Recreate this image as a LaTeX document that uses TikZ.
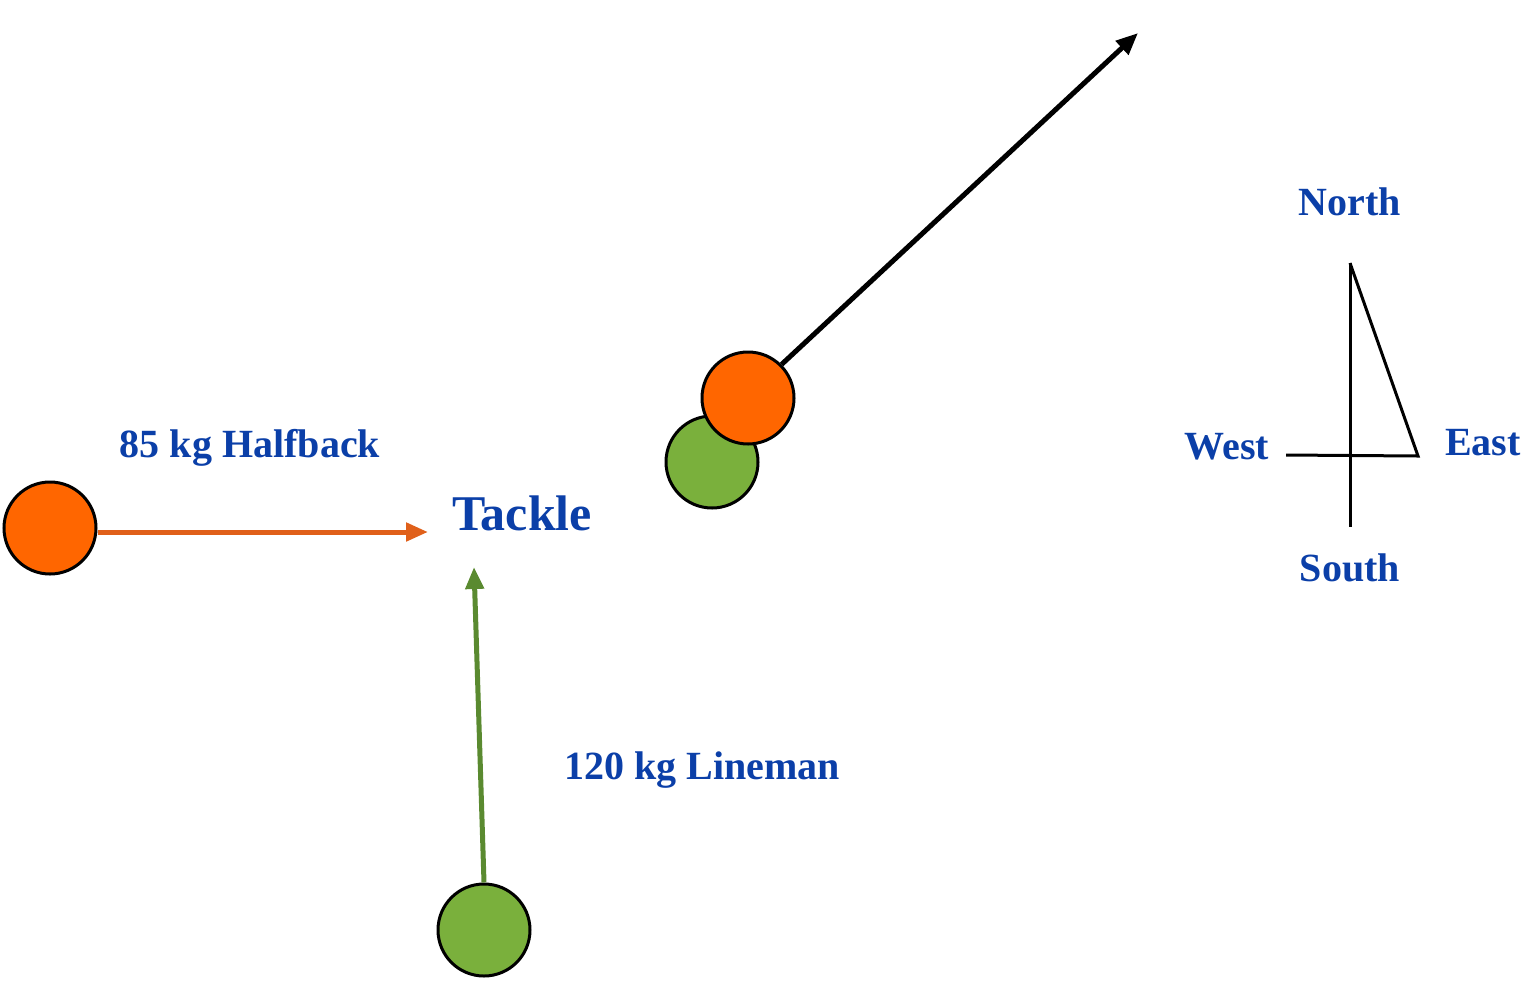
\documentclass[tikz,border=0pt]{standalone}
\usepackage{fontspec}
\setmainfont{Liberation Serif}
\usetikzlibrary{arrows.meta}
\definecolor{lbl}{HTML}{0B3FA8}
\definecolor{org}{HTML}{FF6600}
\definecolor{grn}{HTML}{7AB03C}
\definecolor{oarr}{HTML}{E0601A}
\definecolor{garr}{HTML}{5A8A30}
\begin{document}
\begin{tikzpicture}[x=1pt,y=-1pt,
  ball/.style={circle,draw=black,line width=3pt,minimum size=92pt,inner sep=0pt},
  lab/.style={text=lbl,font=\bfseries\fontsize{40}{44}\selectfont,inner sep=0pt},
  arr/.style={line width=5pt,-{Triangle[length=22pt,width=18pt]}}]
\useasboundingbox (0,0) rectangle (1536,986);
\node[ball,fill=org] (h) at (50,528) {};
\coordinate (ht) at (428,532);
\draw[arr,oarr] (98,532) -- (ht);
\node[lab] (hl) at (250,448) {85 kg Halfback};
\node[lab,font=\bfseries\fontsize{50}{54}\selectfont] (t) at (522,513) {Tackle};
\node[ball,fill=grn] (l) at (484,930) {};
\coordinate (lt) at (474,567);
\draw[arr,garr] (l.north) -- (lt);
\node[lab] (ll) at (702,770) {120 kg Lineman};
\node[ball,fill=grn] (g2) at (712,462) {};
\node[ball,fill=org] (o2) at (748,398) {};
\coordinate (bt) at (1138,33);
\draw[line width=5pt,-{Triangle[length=22pt,width=18pt]}] (o2.45) -- (bt);
\coordinate (cn) at (1350,263);
\coordinate (cs) at (1350,527);
\coordinate (ce) at (1418,456);
\coordinate (cw) at (1286,455);
\draw[line width=3pt] (cn) -- (cs);
\draw[line width=3pt,line join=miter] (cn) -- (ce) -- (cw);
\node[lab] (n) at (1350,202) {North};
\node[lab] (s) at (1350,568) {South};
\node[lab] (w) at (1227,447) {West};
\node[lab] (e) at (1483,443) {East};
\end{tikzpicture}
\end{document}
